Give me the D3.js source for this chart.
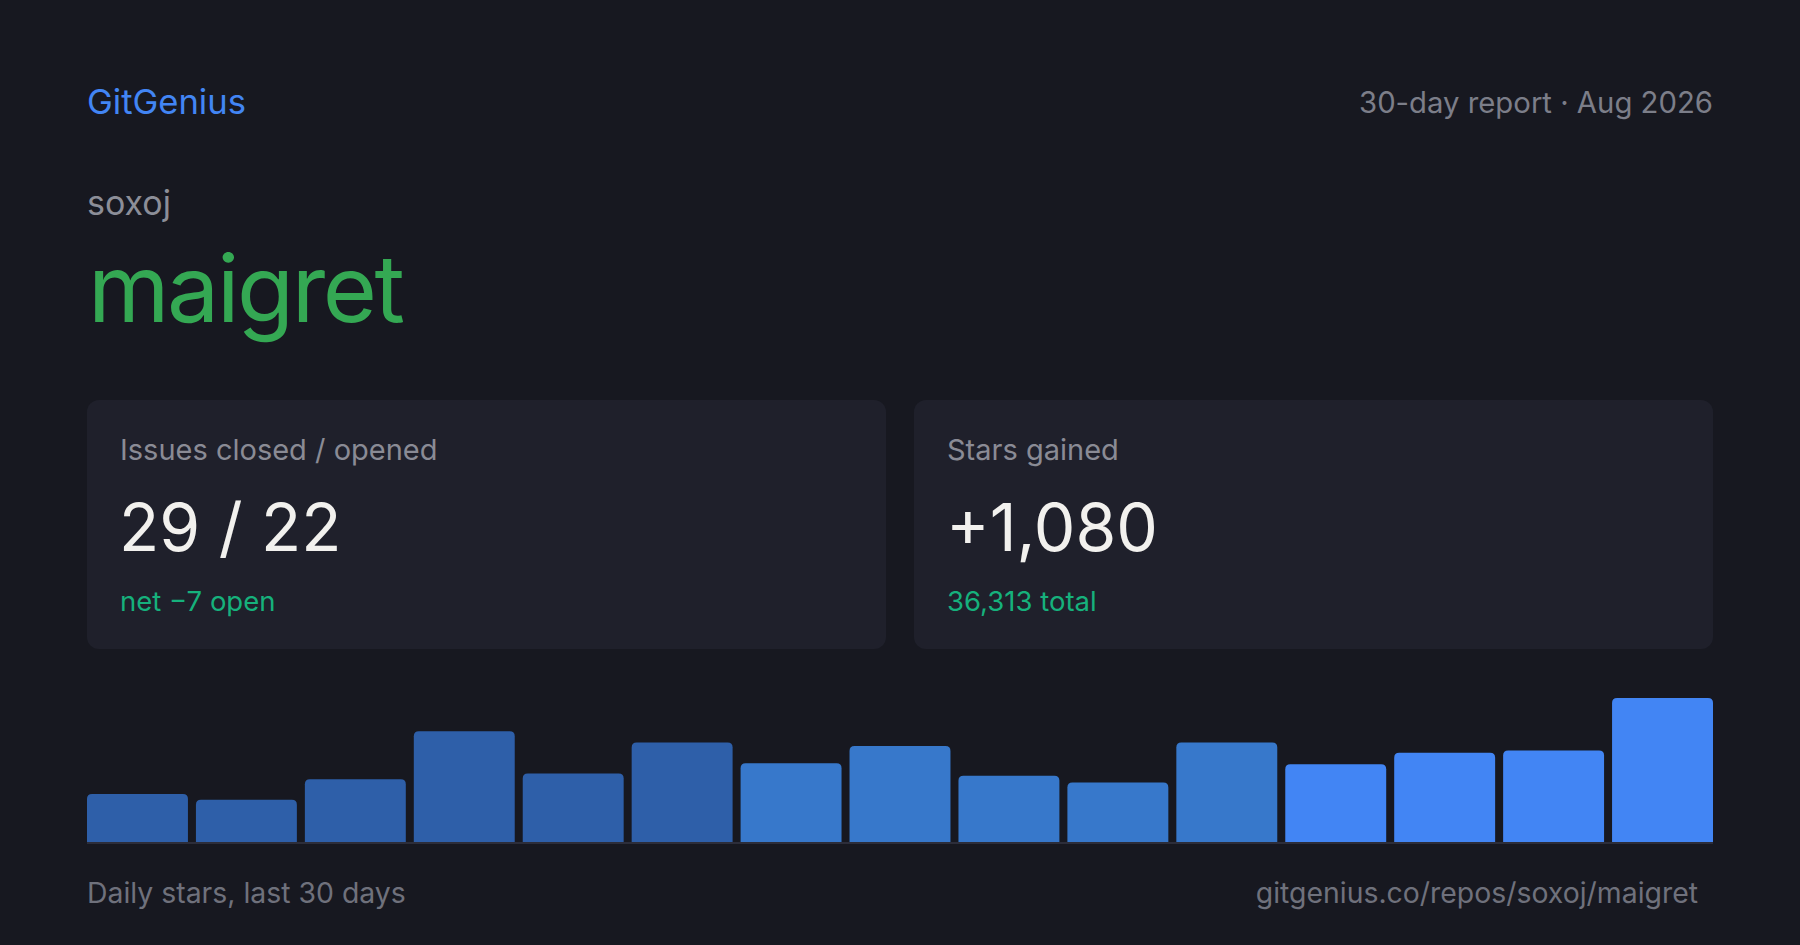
<!DOCTYPE html>
<html>
<head>
<meta charset="utf-8">
<script src="https://cdn.jsdelivr.net/npm/d3@7/dist/d3.min.js"></script>
<style>
  html, body { margin: 0; padding: 0; background: #171820; }
  svg { display: block; }
  text { font-family: Inter, "Noto Sans", sans-serif; }
</style>
</head>
<body>
<svg id="chart" width="1800" height="945"></svg>
<script>
// ---- data ----
const brand = "GitGenius";
const reportLabel = "30-day report · Aug 2026";
const owner = "soxoj";
const repo = "maigret";
const cardTitles = ["Issues closed / opened", "Stars gained"];
const cardValues = ["29 / 22", "+1,080"];
const cardNotes = ["net \u22127 open", "36,313 total"];
const periods = ["D1-2","D3-4","D5-6","D7-8","D9-10","D11-12","D13-14","D15-16","D17-18","D19-20","D21-22","D23-24","D25-26","D27-28","D29-30"];
const dailyStars = [42, 37, 55, 97, 60, 87, 69, 84, 58, 52, 87, 68, 78, 80, 126];
const recencyTier = [0,0,0,0,0,0,1,1,1,1,1,2,2,2,2];
const footerLeft = "Daily stars, last 30 days";
const footerRight = "gitgenius.co/repos/soxoj/maigret";

// ---- layout ----
const W = 1800, H = 945;
const left = 87, right = 1713;
const svg = d3.select("#chart");

svg.append("rect").attr("width", W).attr("height", H).attr("fill", "#171820");

// header
svg.append("text").attr("x", left).attr("y", 114)
  .attr("font-size", 34.6).attr("fill", "#4285f4").text(brand);
svg.append("text").attr("x", right).attr("y", 112.5).attr("text-anchor", "end")
  .attr("font-size", 29.3).attr("fill", "#7c7e89").text(reportLabel);
svg.append("text").attr("x", left).attr("y", 215)
  .attr("font-size", 34).attr("fill", "#8c8e98").text(owner);
svg.append("text").attr("x", left + 1).attr("y", 322)
  .attr("font-size", 93).attr("letter-spacing", -2.4).attr("fill", "#34a853").text(repo);

// cards
const gap = 28;
const cardW = (right - left - gap) / 2;
const cardX = d3.scaleBand().domain(d3.range(cardTitles.length)).range([left, right + gap]).paddingInner(0);
const cards = svg.selectAll("g.card").data(cardTitles).join("g")
  .attr("class", "card")
  .attr("transform", (d, i) => `translate(${cardX(i)},400)`);
cards.append("rect").attr("width", cardW).attr("height", 249).attr("rx", 12)
  .attr("fill", "#1f202b");
cards.append("text").attr("x", 33).attr("y", 60)
  .attr("font-size", 29).attr("fill", "#8a8b95").text(d => d);
cards.append("text").attr("x", 32).attr("y", 151)
  .attr("font-size", 66).attr("fill", "#f2f1ee").text((d, i) => cardValues[i]);
cards.append("text").attr("x", 33).attr("y", 210.5)
  .attr("font-size", 27.5).attr("fill", "#16b17c").text((d, i) => cardNotes[i]);

// bars
const x = d3.scaleBand().domain(periods).range([left, right]).paddingInner(8 / 109).paddingOuter(0);
const baseY = 842;
const y = d3.scaleLinear().domain([0, d3.max(dailyStars)]).range([baseY, 698]);
const tierColor = d3.scaleOrdinal().domain([0, 1, 2]).range(["#2e5fa9", "#3778cb", "#4285f4"]);

function topRounded(x0, y0, w, h, r) {
  r = Math.min(r, h, w / 2);
  return `M${x0},${y0 + h}V${y0 + r}Q${x0},${y0} ${x0 + r},${y0}H${x0 + w - r}Q${x0 + w},${y0} ${x0 + w},${y0 + r}V${y0 + h}Z`;
}

svg.append("g").selectAll("path").data(dailyStars).join("path")
  .attr("d", (d, i) => topRounded(x(periods[i]), y(d), x.bandwidth(), baseY - y(d), 5))
  .attr("fill", (d, i) => tierColor(recencyTier[i]));

svg.append("rect").attr("x", left).attr("y", baseY).attr("width", right - left).attr("height", 2)
  .attr("fill", "#2c2d3a");

// footer
svg.append("text").attr("x", left).attr("y", 902.5)
  .attr("font-size", 28.4).attr("fill", "#6f717c").text(footerLeft);
svg.append("text").attr("x", 1698).attr("y", 902.5).attr("text-anchor", "end")
  .attr("font-size", 28.4).attr("fill", "#6f717c").text(footerRight);
</script>
</body>
</html>
